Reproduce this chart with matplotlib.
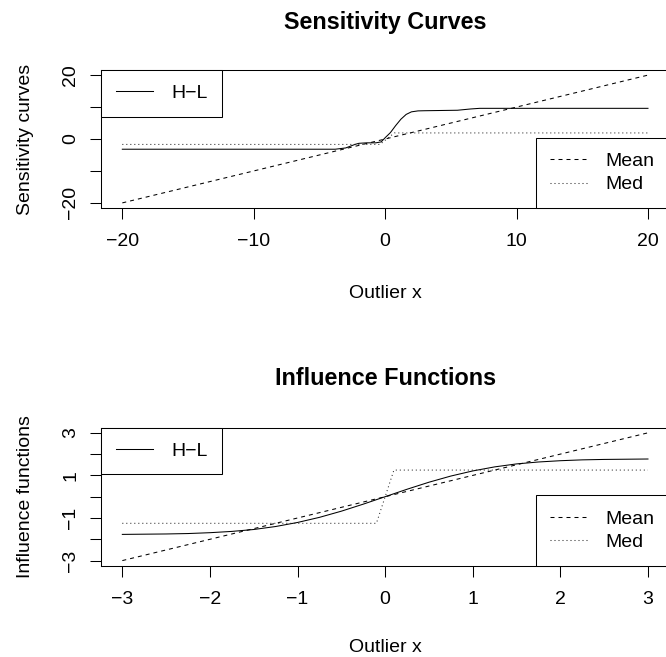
import matplotlib
matplotlib.use('Agg')
import matplotlib.pyplot as plt

plt.rcParams['font.family'] = ['Liberation Sans', 'DejaVu Sans']
plt.rcParams['font.size'] = 14

# sensitivity curves
sc_mean_x = [-20, 20]
sc_mean_y = [-20, 20]
sc_med_x = [-20, -0.4, 0.7, 20]
sc_med_y = [-1.7, -1.7, 1.9, 1.9]
sc_hl_x = [-20, -3.8, -3.0, -2.3, -2.0, -1.4, -0.7, -0.3, 0.0, 0.4, 0.8, 1.2, 1.6, 2.0, 2.5, 3.0, 5.5, 6.5, 7.2, 20]
sc_hl_y = [-3.2, -3.2, -2.8, -1.7, -1.35, -1.2, -1.2, -0.9, 0.4, 2.0, 4.2, 6.2, 7.7, 8.5, 8.8, 8.85, 9.0, 9.4, 9.6, 9.6]

# influence functions
if_mean_x = [-3, 3]
if_mean_y = [-3, 3]
if_med_x = [-3, -0.1, 0.1, 3]
if_med_y = [-1.25, -1.25, 1.25, 1.25]
if_hl_x = [-3, -2.75, -2.5, -2.25, -2, -1.75, -1.5, -1.25, -1, -0.75, -0.5, -0.25, 0,
           0.25, 0.5, 0.75, 1, 1.25, 1.5, 1.75, 2, 2.25, 2.5, 2.75, 3]
if_hl_y = [-1.77, -1.76, -1.75, -1.73, -1.69, -1.63, -1.54, -1.40, -1.21, -0.97, -0.68, -0.35, 0,
           0.35, 0.68, 0.97, 1.21, 1.40, 1.54, 1.63, 1.69, 1.73, 1.75, 1.76, 1.77]

W, H = 666, 657
fig = plt.figure(figsize=(W / 100, H / 100), dpi=100)
ax1 = fig.add_axes([101.3 / W, (H - 208) / H, 567.7 / W, 138 / H])
ax2 = fig.add_axes([101.3 / W, (H - 565.7) / H, 567.7 / W, 138 / H])

dash = (3.84, 3.84)
dot = (0.96, 2.88)


def panel(ax, hx, hy, mx, my, dx, dy, lim, ticks, ticklabels, xticks, title, ylabel, title_off, xlab_off):
    l_hl, = ax.plot(hx, hy, color='black', lw=0.75)
    l_mean, = ax.plot(mx, my, color='black', lw=0.75, dashes=dash)
    l_med, = ax.plot(dx, dy, color='#222222', lw=0.75, dashes=dot)
    ax.set_xlim(-lim[0], lim[0])
    ax.set_ylim(-lim[1], lim[1])
    ax.set_xticks(xticks)
    ax.set_yticks(ticks)
    ax.set_yticklabels(ticklabels)
    ax.tick_params(length=7.9, width=0.75, direction='out')
    ax.tick_params(axis='x', pad=10)
    ax.tick_params(axis='y', pad=7.9)
    plt.setp(ax.get_yticklabels(), rotation=90, va='center')
    for s in ax.spines.values():
        s.set_linewidth(0.75)
    ax.set_xlabel('Outlier x')
    ax.xaxis.set_label_coords(0.5, -xlab_off / 138)
    ax.xaxis.label.set_va('center')
    ax.set_ylabel(ylabel, labelpad=20.5)
    ax.set_title(title, fontweight='bold', fontsize=16.8, y=1 + title_off / 138, va='center', pad=0)

    kw = dict(frameon=True, fancybox=False, edgecolor='black', framealpha=1,
              borderaxespad=0, borderpad=0.75, handlelength=1.9, handletextpad=0.93,
              fontsize=14)
    leg1 = ax.legend([l_hl], ['H\u2212L'], loc='upper left', **kw)
    leg1.get_frame().set_linewidth(0.75)
    ax.add_artist(leg1)
    leg2 = ax.legend([l_mean, l_med], ['Mean', 'Med'], loc='lower right', labelspacing=0.3, **kw)
    leg2.get_frame().set_linewidth(0.75)


panel(ax1, sc_hl_x, sc_hl_y, sc_mean_x, sc_mean_y, sc_med_x, sc_med_y,
      (21.6, 21.6), [-20, -10, 0, 10, 20], ['\u221220', '', '0', '', '20'],
      [-20, -10, 0, 10, 20], 'Sensitivity Curves', 'Sensitivity curves', 47.3, 85)
panel(ax2, if_hl_x, if_hl_y, if_mean_x, if_mean_y, if_med_x, if_med_y,
      (3.24, 3.24), [-3, -2, -1, 0, 1, 2, 3], ['\u22123', '', '\u22121', '', '1', '', '3'],
      [-3, -2, -1, 0, 1, 2, 3], 'Influence Functions', 'Influence functions', 49.4, 82)

fig.savefig('out.png', dpi=100)
